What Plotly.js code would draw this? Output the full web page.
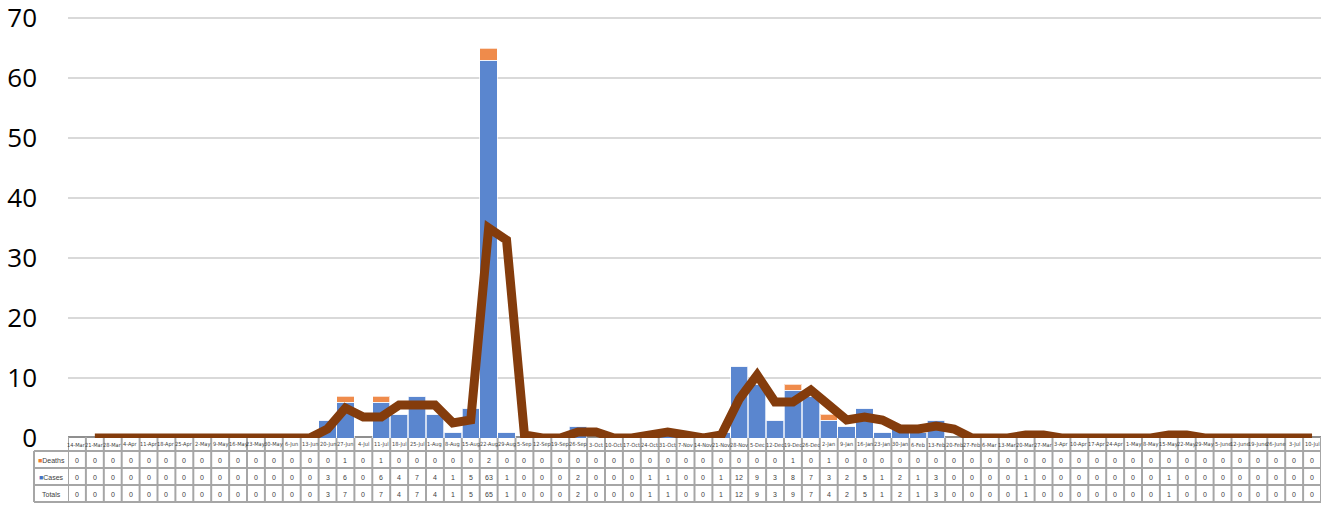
<!DOCTYPE html>
<html>
<head>
<meta charset="utf-8">
<script src="https://cdn.plot.ly/plotly-3.0.1.min.js"></script>
<style>
html,body{margin:0;padding:0;background:#fff;}
#chart{width:1327px;height:507px;}
</style>
</head>
<body>
<div id="chart"></div>
<script>
const categories = ["14-Mar","21-Mar","28-Mar","4-Apr","11-Apr","18-Apr","25-Apr","2-May","9-May","16-May","23-May","30-May","6-Jun","13-Jun","20-Jun","27-Jun","4-Jul","11-Jul","18-Jul","25-Jul","1-Aug","8-Aug","15-Aug","22-Aug","29-Aug","5-Sep","12-Sep","19-Sep","26-Sep","3-Oct","10-Oct","17-Oct","24-Oct","31-Oct","7-Nov","14-Nov","21-Nov","28-Nov","5-Dec","12-Dec","19-Dec","26-Dec","2-Jan","9-Jan","16-Jan","23-Jan","30-Jan","6-Feb","13-Feb","20-Feb","27-Feb","6-Mar","13-Mar","20-Mar","27-Mar","3-Apr","10-Apr","17-Apr","24-Apr","1-May","8-May","15-May","22-May","29-May","5-June","12-June","19-June","26-June","3-Jul","10-Jul"];

const deaths = [0,0,0,0,0,0,0,0,0,0,0,0,0,0,0,1,0,1,0,0,0,0,0,2,0,0,0,0,0,0,0,0,0,0,0,0,0,0,0,0,1,0,1,0,0,0,0,0,0,0,0,0,0,0,0,0,0,0,0,0,0,0,0,0,0,0,0,0,0,0];

const cases = [0,0,0,0,0,0,0,0,0,0,0,0,0,0,3,6,0,6,4,7,4,1,5,63,1,0,0,0,2,0,0,0,1,1,0,0,1,12,9,3,8,7,3,2,5,1,2,1,3,0,0,0,0,1,0,0,0,0,0,0,0,1,0,0,0,0,0,0,0,0];

const totals = [0,0,0,0,0,0,0,0,0,0,0,0,0,0,3,7,0,7,4,7,4,1,5,65,1,0,0,0,2,0,0,0,1,1,0,0,1,12,9,3,9,7,4,2,5,1,2,1,3,0,0,0,0,1,0,0,0,0,0,0,0,1,0,0,0,0,0,0,0,0];

// trend line (2-week moving average)
const trend = [null,0,0,0,0,0,0,0,0,0,0,0,0,0,1.5,5,3.5,3.5,5.5,5.5,5.5,2.5,3,35,33,0.5,0,0,1,1,0,0,0.5,1,0.5,0,0.5,6.5,10.5,6,6,8,5.5,3,3.5,3,1.5,1.5,2,1.5,0,0,0,0.5,0.5,0,0,0,0,0,0,0.5,0.5,0,0,0,0,0,0,0];

const rowLabels = ["Deaths","Cases","Totals"];

// layout geometry (pixels)
const W = 1327, H = 507;
const PL = 68, PR = 1321, PT = 12, PB = 438;
function fy(p){ return (PB - p) / (PB - PT); }
function fx(p){ return (p - PL) / (PR - PL); }

const gridC = '#A6A6A6';
const rowTop = [437, 451, 468, 485, 502];
const leftX = 34;

const shapes = [];
shapes.push({type:'line', layer:'below', xref:'paper', yref:'paper', x0:0, x1:1, y0:fy(437), y1:fy(437), line:{color:'#8F8F8F', width:2}});
for (let r = 1; r < rowTop.length; r++) {
  shapes.push({type:'line', layer:'below', xref:'paper', yref:'paper', x0:fx(leftX), x1:1, y0:fy(rowTop[r]), y1:fy(rowTop[r]), line:{color:gridC, width:2}});
}
for (let i = 0; i <= categories.length; i++) {
  shapes.push({type:'line', layer:'below', xref:'x', yref:'paper', x0:i-0.5, x1:i-0.5, y0:fy(437), y1:fy(502), line:{color:gridC, width:2}});
}
shapes.push({type:'line', layer:'below', xref:'paper', yref:'paper', x0:fx(leftX), x1:fx(leftX), y0:fy(451), y1:fy(502), line:{color:gridC, width:2}});

const annotations = [];
const labFont = {family:'Liberation Sans Narrow, DejaVu Sans Condensed, Liberation Sans, sans-serif', size:5.6, color:'#404040'};
const numFont = {family:'Liberation Sans, Arial, sans-serif', size:7, color:'#404040'};
const rows = [deaths, cases, totals];
const rowCenters = [460, 477, 494];
categories.forEach((c, i) => {
  annotations.push({xref:'x', yref:'paper', x:i, y:fy(444.5), text:c, showarrow:false, font:labFont, xanchor:'center', yanchor:'middle'});
  rows.forEach((arr, r) => {
    annotations.push({xref:'x', yref:'paper', x:i, y:fy(rowCenters[r]), text:String(arr[i]), showarrow:false, font:numFont, xanchor:'center', yanchor:'middle'});
  });
});
const keyColors = ['#ED7D31', '#4472C4', null];
rowLabels.forEach((lab, r) => {
  const key = keyColors[r] ? '<span style="color:' + keyColors[r] + '">■</span>' : '';
  annotations.push({xref:'paper', yref:'paper', x:fx(51), y:fy(rowCenters[r]), text:key + lab, showarrow:false, font:numFont, xanchor:'center', yanchor:'middle'});
});

const data = [
  {type:'bar', name:'Cases', x:categories, y:cases, marker:{color:'#5A86CF', line:{color:'rgba(255,255,255,0.7)', width:1}}, hoverinfo:'x+y'},
  {type:'bar', name:'Deaths', x:categories, y:deaths, marker:{color:'#EF8B4B', line:{color:'rgba(255,255,255,0.7)', width:1}}, hoverinfo:'x+y'},
  {type:'scatter', mode:'lines', name:'Trend', x:categories, y:trend, line:{color:'#843C0C', width:9}, cliponaxis:false, connectgaps:false, hoverinfo:'x+y'}
];

const layout = {
  width: W, height: H,
  margin: {l:PL, r:W-PR, t:PT, b:H-PB},
  paper_bgcolor:'#fff', plot_bgcolor:'#fff',
  barmode:'stack', bargap:0.03,
  showlegend:false,
  xaxis:{type:'category', range:[-0.5, categories.length-0.5], showticklabels:false, showgrid:false, zeroline:false, showline:false, ticks:'', fixedrange:true},
  yaxis:{range:[0,71], dtick:10, tick0:0, showgrid:true, gridcolor:'#D9D9D9', gridwidth:1.5, zeroline:false, showline:false, ticks:'', ticklabelstandoff:30, ticklabeloverflow:'allow',
         tickfont:{family:'Open Sans, Liberation Sans, sans-serif', size:26, color:'#000'}, fixedrange:true},
  shapes: shapes,
  annotations: annotations
};

Plotly.newPlot('chart', data, layout, {displayModeBar:false, staticPlot:true});
</script>
</body>
</html>
